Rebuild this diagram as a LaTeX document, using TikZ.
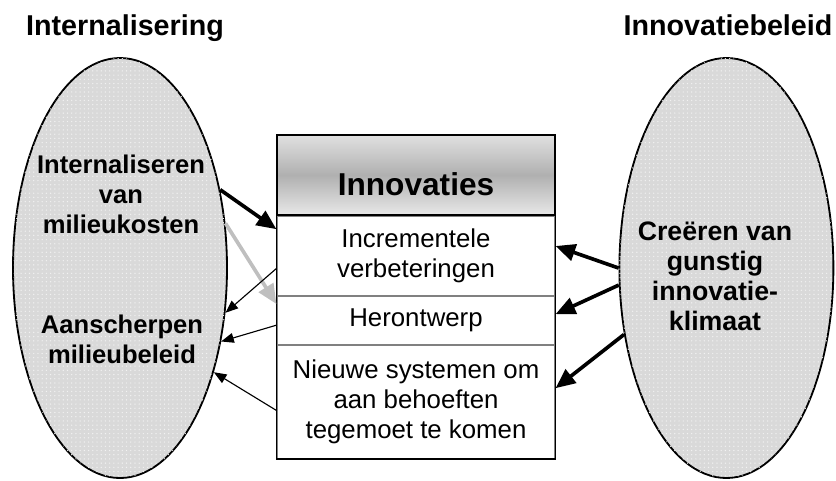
\documentclass[tikz,border=0pt]{standalone}
\usepackage{fontspec}
\setmainfont{Liberation Sans}
\usetikzlibrary{positioning,shapes.geometric,arrows.meta,calc,patterns}

\begin{document}
\begin{tikzpicture}[
	blob/.style={ellipse, draw, line width=1.3pt, fill=gray!30,
		postaction={pattern=dots, pattern color=gray!10},
		minimum width=5.35cm, minimum height=10.5cm, inner sep=0pt},
	blobtext/.style={align=center, anchor=base, font=\bfseries\fontsize{18.2}{21.3}\selectfont},
	head/.style={font=\bfseries\fontsize{20.4}{24}\selectfont, anchor=base},
	row/.style={rectangle, draw=gray, line width=0.8pt, fill=white, minimum width=6.95cm,
		inner sep=0pt, align=center, font=\fontsize{18.35}{21.6}\selectfont},
	big/.style={-{Triangle[length=14pt,width=12pt]}, line width=2.6pt},
	thin/.style={-{Triangle[length=9pt,width=7pt]}, line width=0.8pt}
	]
	\useasboundingbox (0,0) rectangle (20.9,-12);
	% the two policy areas
	\node[head] (intern) at (3.125,-0.875) {Internalisering};
	\node[head] (beleid) at (18.2,-0.875) {Innovatiebeleid};
	\node[blob] (lft) at (3.0,-6.7) {};
	\node[blob] (rgt) at (18.16,-6.7) {};
	% base sits on the last line
	\node[blobtext] (kosten) at (3.025,-5.825) {Internaliseren\\van\\milieukosten};
	\node[blobtext] (aanscherp) at (3.05,-9.075) {Aanscherpen\\milieubeleid};
	\node[blobtext, font=\bfseries\fontsize{19}{21.2}\selectfont] (klimaat) at (17.875,-8.25)
		{Creëren van\\gunstig\\innovatie-\\klimaat};
	% the innovations box
	\node[row, draw=black, minimum height=2cm, text height=1cm, text depth=0pt,
		font=\bfseries\fontsize{22.5}{26}\selectfont,
		top color=gray!24, bottom color=gray!18, middle color=gray!62] (hdr) at (10.4,-4.375) {Innovaties};
	\node[row, minimum height=1.975cm] (incr) [below=0pt of hdr] {Incrementele\\verbeteringen};
	\node[row, minimum height=1.2cm] (herontw) [below=0pt of incr] {Herontwerp};
	\node[row, minimum height=2.825cm] (nieuw) [below=0pt of herontw] {Nieuwe systemen om\\aan behoeften\\tegemoet te komen};
	\draw[line width=1.3pt] (hdr.north west) rectangle (nieuw.south east);
	% links between them
	\draw[big] (lft.38) -- ($(incr.north west)!0.17!(incr.south west)$);
	\draw[big, gray!50] (lft.23) -- ($(herontw.north west)!0.17!(herontw.south west)$);
	\draw[thin] ($(incr.north west)!0.66!(incr.south west)$) -- (lft.-23);
	\draw[thin] ($(herontw.north west)!0.6!(herontw.south west)$) -- (lft.-36);
	\draw[thin] ($(nieuw.north west)!0.575!(nieuw.south west)$) -- (lft.-48);
	\draw[big] (rgt.180) -- ($(incr.north east)!0.38!(incr.south east)$);
	\draw[big] (rgt.189) -- ($(herontw.north east)!0.375!(herontw.south east)$);
	\draw[big] (rgt.213) -- ($(nieuw.north east)!0.38!(nieuw.south east)$);
\end{tikzpicture}
\end{document}
